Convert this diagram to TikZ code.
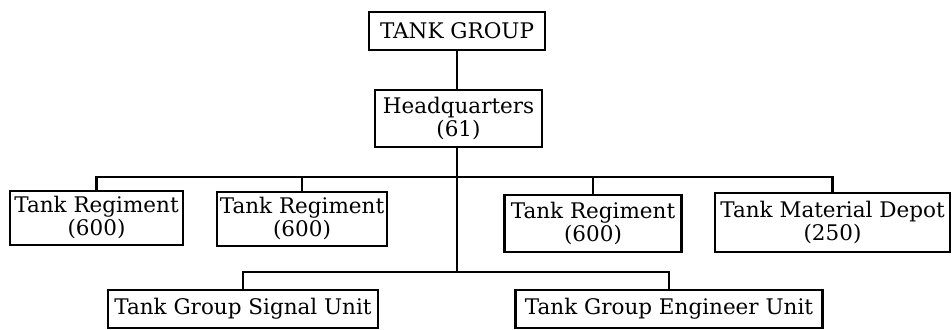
\documentclass[tikz,border=0pt]{standalone}
\usepackage{fontspec}
\setmainfont{DejaVu Serif}
\begin{document}
\begin{tikzpicture}[x=1pt,y=-1pt,
  box/.style={draw,line width=2.2pt,inner sep=0pt,align=center,font=\fontsize{21.5}{23}\selectfont},
  conn/.style={line width=2.2pt}]
\useasboundingbox (0,0) rectangle (952,329);
\node[box,minimum width=176pt,minimum height=38pt] (tg) at (457,31) {TANK GROUP};
\node[box,minimum width=167pt,minimum height=57pt] (hq) at (458.5,118.5) {Headquarters\\(61)};
\node[box,minimum width=173pt,minimum height=54pt] (r1) at (96.5,218) {Tank Regiment\\(600)};
\node[box,minimum width=170pt,minimum height=54pt] (r2) at (302,219) {Tank Regiment\\(600)};
\node[box,minimum width=177pt,minimum height=57pt] (r3) at (593,223.5) {Tank Regiment\\(600)};
\node[box,minimum width=235pt,minimum height=59pt] (dp) at (832.5,222.5) {Tank Material Depot\\(250)};
\node[box,minimum width=270pt,minimum height=38pt] (su) at (243,309) {Tank Group Signal Unit};
\node[box,minimum width=307pt,minimum height=38pt] (eu) at (669,309) {Tank Group Engineer Unit};
\coordinate (b1) at (457,177);
\coordinate (b2) at (457,272);
\draw[conn] (tg.south) -- (tg.south |- hq.north);
\draw[conn] (tg.south |- hq.south) -- (b2);
\draw[conn] (r1.north) |- (b1) -| (dp.north);
\draw[conn] (r2.north) -- (r2.north |- b1);
\draw[conn] (r3.north) -- (r3.north |- b1);
\draw[conn] (su.north) |- (b2) -| (eu.north);
\end{tikzpicture}
\end{document}
